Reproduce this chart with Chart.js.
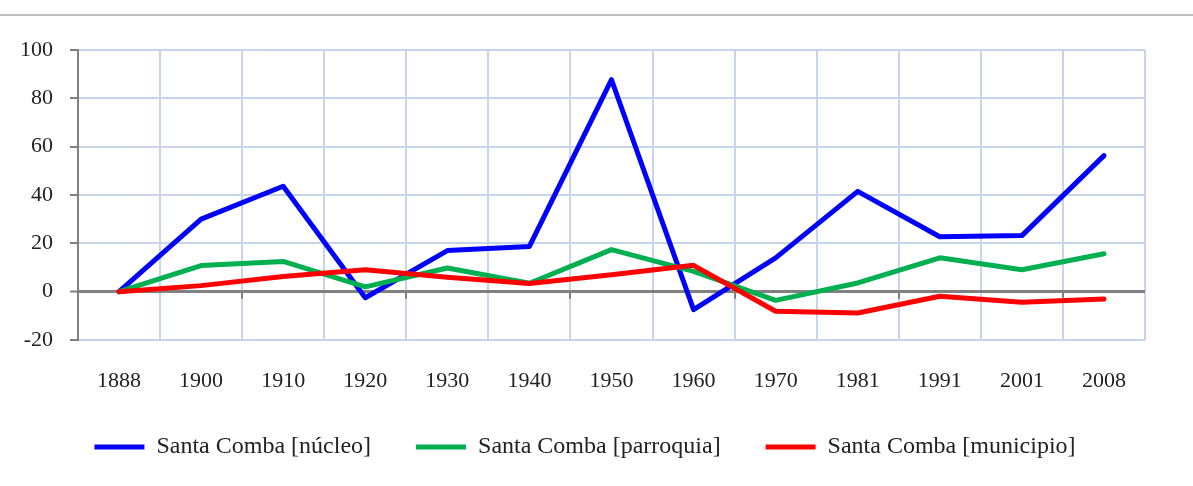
<!DOCTYPE html>
<html>
<head>
<meta charset="utf-8">
<script src="https://cdn.jsdelivr.net/npm/chart.js@4.4.1/dist/chart.umd.min.js"></script>
<style>
  body { margin: 0; background: #fff; }
  .top-rule { position: absolute; left: 0; top: 14px; width: 1193px; height: 2px; background: #bdbdbd; }
  .chart-container { position: relative; width: 1193px; height: 486px; }
</style>
</head>
<body>
<div class="chart-container">
  <div class="top-rule"></div>
  <canvas id="chart" width="1193" height="486"></canvas>
</div>
<script>
// years on the horizontal axis
var years = ['1888', '1900', '1910', '1920', '1930', '1940', '1950', '1960', '1970', '1981', '1991', '2001', '2008'];

// series values
var nucleo = [0, 30, 43.6, -2.5, 17, 18.7, 87.7, -7.4, 14, 41.5, 22.7, 23.2, 56.3];
var parroquia = [0, 10.8, 12.5, 2, 9.8, 3.5, 17.4, 8.4, -3.6, 3.6, 14, 9.1, 15.7];
var municipio = [0, 2.5, 6.3, 9.1, 6, 3.4, 7, 10.9, -8.1, -8.8, -1.9, -4.4, -3];

var seriesNames = ['Santa Comba [núcleo]', 'Santa Comba [parroquia]', 'Santa Comba [municipio]'];

var serif = "'Liberation Serif', 'DejaVu Serif', serif";

// small grey tick marks sitting under the zero line, every second category boundary
var zeroTicks = {
  id: 'zeroTicks',
  afterLayout: function (chart) {
    // nudge the legend row a little to the right, as in the original
    chart.legend.left += 25;
  },
  afterDatasetsDraw: function (chart) {
    var x = chart.scales.x, y = chart.scales.y;
    var ctx = chart.ctx;
    var y0 = y.getPixelForValue(0);
    var half = (x.getPixelForValue(1) - x.getPixelForValue(0)) / 2;
    ctx.save();
    ctx.strokeStyle = '#808080';
    ctx.lineWidth = 2;
    for (var i = 2; i < years.length; i += 2) {
      var px = Math.round(x.getPixelForValue(i) - half);
      ctx.beginPath();
      ctx.moveTo(px, y0);
      ctx.lineTo(px, y0 + 7);
      ctx.stroke();
    }
    ctx.restore();
  }
};

window.addEventListener('DOMContentLoaded', function () {
  var ctx = document.getElementById('chart').getContext('2d');

  function lineSet(label, data, color, order) {
    return {
      label: label,
      data: data,
      borderColor: color,
      backgroundColor: color,
      borderWidth: 5,
      borderCapStyle: 'round',
      borderJoinStyle: 'round',
      pointRadius: 0,
      pointHoverRadius: 0,
      tension: 0,
      order: order
    };
  }

  new Chart(ctx, {
    type: 'line',
    data: {
      labels: years,
      datasets: [
        lineSet(seriesNames[0], nucleo, '#0000ff', 3),
        lineSet(seriesNames[1], parroquia, '#00b050', 2),
        lineSet(seriesNames[2], municipio, '#ff0000', 1)
      ]
    },
    plugins: [zeroTicks],
    options: {
      responsive: false,
      animation: false,
      layout: {
        padding: { top: 50, left: 0, right: 48, bottom: 17 }
      },
      scales: {
        x: {
          offset: true,
          grid: {
            offset: true,
            color: '#c6d4ec',
            lineWidth: 2,
            drawTicks: false
          },
          border: { display: false },
          ticks: {
            color: '#222',
            padding: 28,
            font: { family: serif, size: 22 }
          },
          afterFit: function (scale) { scale.height = 50; }
        },
        y: {
          min: -20,
          max: 100,
          ticks: {
            stepSize: 20,
            color: '#222',
            padding: 17,
            font: { family: serif, size: 22 }
          },
          grid: {
            color: function (c) { return c.tick && c.tick.value === 0 ? '#808080' : '#c6d4ec'; },
            lineWidth: function (c) { return c.tick && c.tick.value === 0 ? 3 : 2; },
            tickColor: '#808080',
            tickWidth: 2,
            tickLength: 8
          },
          border: { display: true, color: '#808080', width: 2 },
          afterFit: function (scale) { scale.width = 78; }
        }
      },
      plugins: {
        legend: {
          position: 'bottom',
          labels: {
            usePointStyle: true,
            pointStyle: 'line',
            pointStyleWidth: 50,
            boxHeight: 24,
            padding: 45,
            color: '#222',
            font: { family: serif, size: 24 },
            sort: function (a, b) { return a.datasetIndex - b.datasetIndex; }
          }
        },
        tooltip: { enabled: false }
      }
    }
  });
});
</script>
</body>
</html>
